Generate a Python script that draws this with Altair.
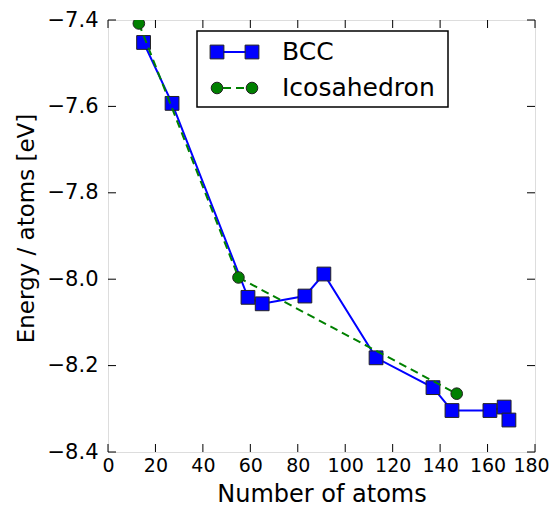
import altair as alt
import pandas as pd

# ---- data ----
bcc_x = [15, 27, 59, 65, 83, 91, 113, 137, 145, 161, 167, 169]
bcc_y = [-7.452, -7.593, -8.042, -8.057, -8.039, -7.988, -8.182, -8.251, -8.304, -8.304, -8.296, -8.326]
ico_x = [13, 55, 147]
ico_y = [-7.408, -7.996, -8.265]
x_ticks = [0, 20, 40, 60, 80, 100, 120, 140, 160, 180]
y_ticks = [-8.4, -8.2, -8.0, -7.8, -7.6, -7.4]
series_names = ["BCC", "Icosahedron"]

W, H = 427, 432
FONT = "DejaVu Sans"
BLUE = "#0000ff"
GREEN = "#008000"
TL = 8  # inward tick length

bcc_df = pd.DataFrame({"x": bcc_x, "y": bcc_y})
ico_df = pd.DataFrame({"x": ico_x, "y": ico_y})
xt_df = pd.DataFrame({"v": x_ticks})
yt_df = pd.DataFrame({"v": y_ticks})
one = pd.DataFrame({"k": [0]})

xscale = alt.Scale(domain=[0, 180], nice=False, zero=False)
yscale = alt.Scale(domain=[-8.4, -7.4], nice=False, zero=False)

xaxis = alt.Axis(values=x_ticks, format="d", labelFont=FONT, labelFontSize=19,
                 labelColor="black", tickSize=0, domain=False, grid=False,
                 labelOverlap=False, labelFlush=False,
                 labelOffset={"condition": {"test": "datum.value == 180", "value": -4}, "value": 0},
                 labelPadding=4, title="Number of atoms", titleFont=FONT,
                 titleFontSize=24, titleFontWeight="normal", titleColor="black",
                 titleY=49, titleBaseline="alphabetic")
yaxis = alt.Axis(values=y_ticks, format=".1f", labelFont=FONT, labelFontSize=21,
                 labelColor="black", tickSize=0, domain=False, grid=False,
                 labelOverlap=False, labelFlush=False,
                 labelPadding=10, title="Energy / atoms [eV]", titleFont=FONT,
                 titleFontSize=23, titleFontWeight="normal", titleColor="black",
                 titleX=-82, titleY=H / 2 - 8, titleBaseline="middle", titleAlign="center",
                 titleAngle=270)

X = alt.X("x:Q", scale=xscale, axis=xaxis)
Y = alt.Y("y:Q", scale=yscale, axis=yaxis)

bcc_line = alt.Chart(bcc_df).mark_line(color=BLUE, strokeWidth=2, clip=True).encode(x=X, y=Y)
bcc_pts = alt.Chart(bcc_df).mark_point(shape="square", filled=True, fill=BLUE, stroke="#222222",
                                        strokeWidth=1, size=190, opacity=1, clip=True).encode(x=X, y=Y)
ico_line = alt.Chart(ico_df).mark_line(color=GREEN, strokeWidth=2, strokeDash=[8, 5], clip=True).encode(x=X, y=Y)
ico_pts = alt.Chart(ico_df).mark_point(shape="circle", filled=True, fill=GREEN, stroke="#222222",
                                        strokeWidth=1, size=135, opacity=1, clip=True).encode(x=X, y=Y)

# inward ticks on all four sides
xt = alt.X("v:Q", scale=xscale)
yt = alt.Y("v:Q", scale=yscale)
tick_style = dict(color="black", strokeWidth=1)
tb = alt.Chart(xt_df).mark_rule(**tick_style).encode(x=xt, y=alt.value(H), y2=alt.value(H - TL))
tt = alt.Chart(xt_df).mark_rule(**tick_style).encode(x=xt, y=alt.value(0), y2=alt.value(TL))
tl = alt.Chart(yt_df).mark_rule(**tick_style).encode(y=yt, x=alt.value(0), x2=alt.value(TL))
tr = alt.Chart(yt_df).mark_rule(**tick_style).encode(y=yt, x=alt.value(W - TL), x2=alt.value(W))

# legend (drawn by hand, matplotlib-style)
lg_box = alt.Chart(one).mark_rect(fill="white", stroke="black", strokeWidth=1.5).encode(
    x=alt.value(89), x2=alt.value(340), y=alt.value(11), y2=alt.value(87))
r1, r2 = 32, 68
m1, m2 = 109, 144
lg_l1 = alt.Chart(one).mark_rule(color=BLUE, strokeWidth=2).encode(
    x=alt.value(m1), x2=alt.value(m2), y=alt.value(r1))
lg_l2 = alt.Chart(one).mark_rule(color=GREEN, strokeWidth=2, strokeDash=[8, 5], strokeDashOffset=-6).encode(
    x=alt.value(m1), x2=alt.value(m2), y=alt.value(r2))
lg_pts = []
for mx in (m1, m2):
    lg_pts.append(alt.Chart(one).mark_point(shape="square", filled=True, fill=BLUE, stroke="#222222",
                                            strokeWidth=1, size=190, opacity=1).encode(
        x=alt.value(mx), y=alt.value(r1)))
    lg_pts.append(alt.Chart(one).mark_point(shape="circle", filled=True, fill=GREEN, stroke="#222222",
                                            strokeWidth=1, size=135, opacity=1).encode(
        x=alt.value(mx), y=alt.value(r2)))
lg_t1 = alt.Chart(one).mark_text(text=series_names[0], font=FONT, fontSize=25, align="left",
                                 baseline="middle", color="black").encode(x=alt.value(174), y=alt.value(r1))
lg_t2 = alt.Chart(one).mark_text(text=series_names[1], font=FONT, fontSize=25, align="left",
                                 baseline="middle", color="black").encode(x=alt.value(174), y=alt.value(r2))

chart = alt.layer(
    bcc_line, bcc_pts, ico_line, ico_pts, tb, tt, tl, tr,
    lg_box, lg_l1, lg_l2, *lg_pts, lg_t1, lg_t2
).properties(
    width=W, height=H,
    autosize=alt.AutoSizeParams(type="none"),
    padding={"left": 100, "top": 12, "right": 14, "bottom": 55},
).configure_view(stroke="black", strokeWidth=1.5).configure(background="white")

chart.save("out.html", embed_options={"renderer": "svg", "actions": False})
